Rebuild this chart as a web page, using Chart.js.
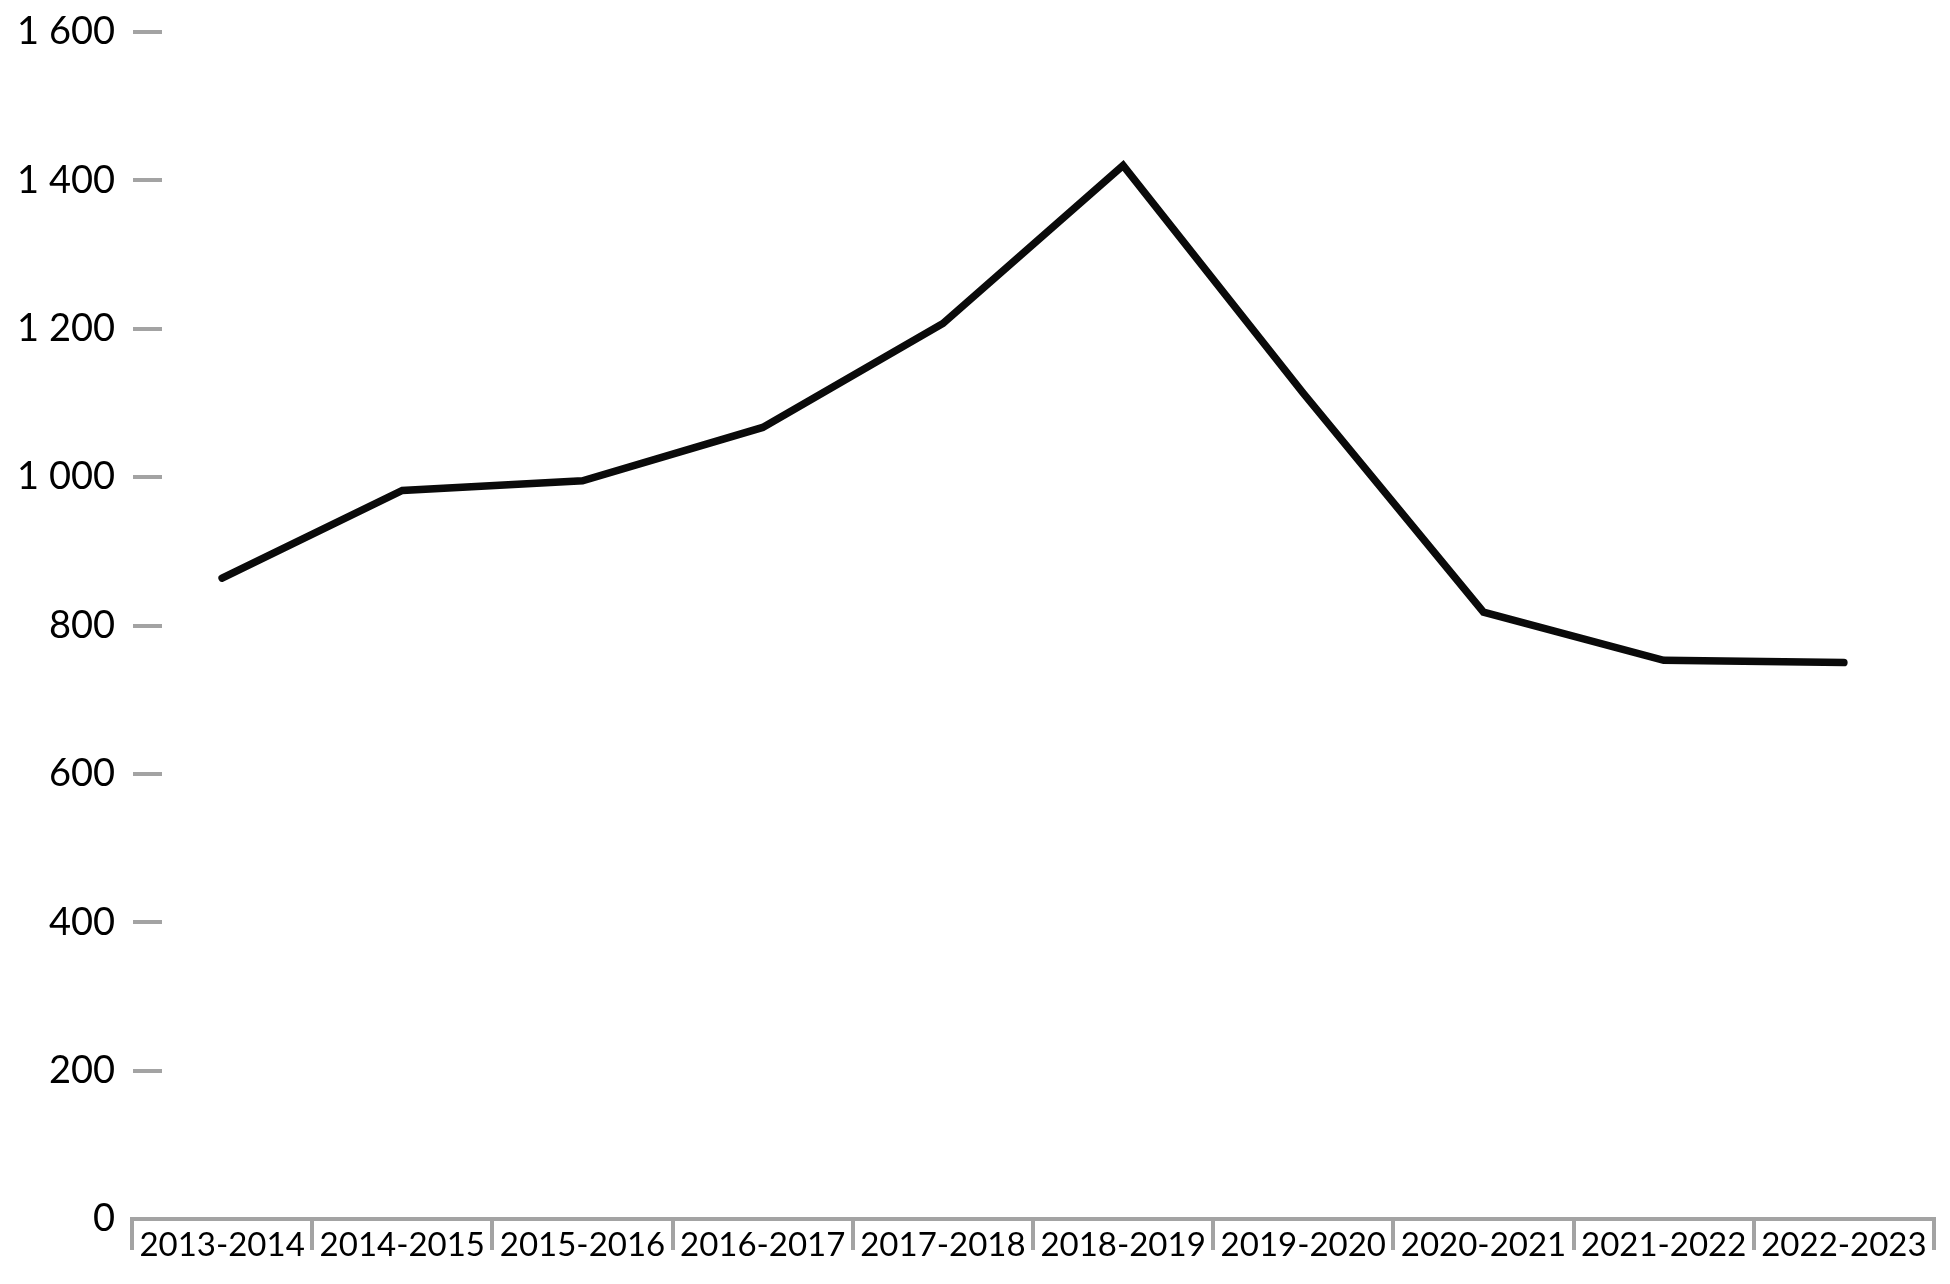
<!DOCTYPE html>
<html>
<head>
<meta charset="utf-8">
<script src="https://cdn.jsdelivr.net/npm/chart.js@4"></script>
<style>
    html, body { margin: 0; padding: 0; background: #ffffff; }
    #wrap { width: 1950px; height: 1284px; }
</style>
</head>
<body>
<div id="wrap"><canvas id="lineChart"></canvas></div>
<script>
var seasons = ['2013-2014', '2014-2015', '2015-2016', '2016-2017', '2017-2018',
    '2018-2019', '2019-2020', '2020-2021', '2021-2022', '2022-2023'];
var counts = [864, 982, 995, 1067, 1207, 1420, 1113, 818, 753, 750];
var yTicks = [0, 200, 400, 600, 800, 1000, 1200, 1400, 1600];

var axisGray = '#a3a3a3';

// short grey marks to the right of each y label
var yTickMarks = {
    id: 'yTickMarks',
    afterDraw: function (chart) {
        var ctx = chart.ctx;
        var y = chart.scales.y;
        var left = chart.chartArea.left;
        ctx.save();
        ctx.strokeStyle = axisGray;
        ctx.lineWidth = 4;
        yTicks.forEach(function (v) {
            if (v === 0) return;
            var py = Math.round(y.getPixelForValue(v));
            ctx.beginPath();
            ctx.moveTo(left + 1, py);
            ctx.lineTo(left + 30, py);
            ctx.stroke();
        });
        ctx.restore();
    }
};

var ctx = document.getElementById('lineChart').getContext('2d');
new Chart(ctx, {
    type: 'line',
    data: {
        labels: seasons,
        datasets: [{
            data: counts,
            borderColor: '#0a0a0a',
            borderWidth: 7.5,
            borderCapStyle: 'round',
            borderJoinStyle: 'miter',
            pointRadius: 0,
            fill: false,
            tension: 0
        }]
    },
    options: {
        responsive: true,
        maintainAspectRatio: false,
        animation: false,
        layout: { padding: { top: 32, right: 16, bottom: 0, left: 0 } },
        plugins: {
            legend: { display: false },
            tooltip: { enabled: false }
        },
        scales: {
            x: {
                offset: true,
                afterFit: function (s) {
                    s.height = 65;
                    s.paddingLeft = 0;
                    s.paddingRight = 0;
                },
                border: { display: true, color: axisGray, width: 4 },
                grid: {
                    offset: true,
                    drawOnChartArea: false,
                    drawTicks: true,
                    tickLength: 31,
                    color: axisGray,
                    lineWidth: 4
                },
                ticks: {
                    color: '#000000',
                    padding: -24,
                    maxRotation: 0,
                    autoSkip: false,
                    font: { family: 'Lato', size: 33 }
                }
            },
            y: {
                min: 0,
                max: 1600,
                afterFit: function (s) {
                    s.width = 132;
                    s.paddingTop = 0;
                    s.paddingBottom = 0;
                },
                afterBuildTicks: function (s) {
                    s.ticks = yTicks.map(function (v) { return { value: v }; });
                },
                border: { display: false },
                grid: { display: false, drawTicks: false },
                ticks: {
                    color: '#000000',
                    padding: 17,
                    font: { family: 'Lato', size: 38 },
                    callback: function (v) {
                        return String(v).replace(/\B(?=(\d{3})+(?!\d))/g, ' ');
                    }
                }
            }
        }
    },
    plugins: [yTickMarks]
});
</script>
</body>
</html>
